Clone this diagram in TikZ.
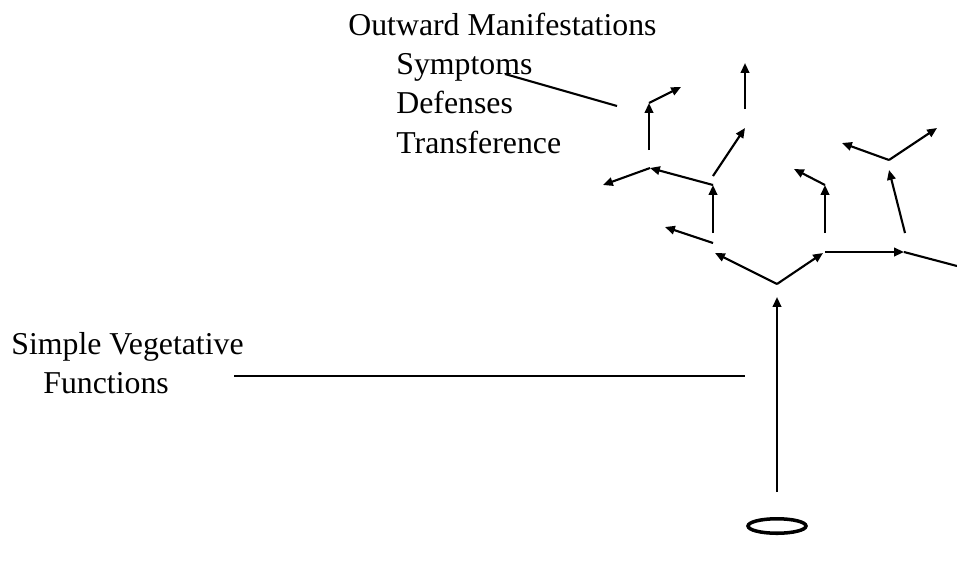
\documentclass[tikz,border=0pt]{standalone}
\usepackage{fontspec}
\setmainfont{Liberation Serif}
\usetikzlibrary{arrows.meta,shapes.geometric}
\begin{document}
\begin{tikzpicture}[x=0.02cm,y=-0.02cm,
  lbl/.style={anchor=base west,inner sep=0pt,font=\fontsize{18.1}{20}\selectfont},
  branch/.style={line width=1.2pt,-{Triangle[length=5.6pt,width=4.8pt]}},
  plain/.style={line width=1.2pt},
  seed/.style={draw,ellipse,line width=2pt,minimum width=1.16cm,minimum height=0.29cm,inner sep=0pt}]
\useasboundingbox (0,0) rectangle (957,562);
% labels
\node[lbl] (om) at (348,35) {Outward Manifestations};
\node[lbl] (sy) at (396,74) {Symptoms};
\node[lbl] (de) at (396,113) {Defenses};
\node[lbl] (tr) at (396,153) {Transference};
\node[lbl] (sv) at (11,354) {Simple Vegetative};
\node[lbl] (fu) at (43,393) {Functions};
% seed
\node[seed] (sd) at (777,526) {};
% coordinates
\coordinate (t0) at (777,492);
\coordinate (t1) at (777,297);
\coordinate (v0) at (777,284);
\coordinate (a) at (715,253);
\coordinate (b) at (823,253);
\coordinate (b2) at (825,252);
\coordinate (c) at (904,252);
\coordinate (ce) at (957,266);
\coordinate (l1s) at (713,243);
\coordinate (l1e) at (665,227);
\coordinate (va) at (713,233);
\coordinate (d) at (713,185);
\coordinate (e) at (650,168);
\coordinate (e2) at (603,185);
\coordinate (ds) at (713,176);
\coordinate (de2) at (745,128);
\coordinate (ts) at (745,109);
\coordinate (te) at (745,63);
\coordinate (us) at (649,150);
\coordinate (ue) at (649,103);
\coordinate (ue2) at (681,87);
\coordinate (ms) at (825,233);
\coordinate (me) at (825,185);
\coordinate (me2) at (794,169);
\coordinate (rs) at (905,233);
\coordinate (re) at (889,170);
\coordinate (rv) at (889,160);
\coordinate (rl) at (842,143);
\coordinate (rr) at (937,128);
\coordinate (sys) at (505,74);
\coordinate (sye) at (617,106);
\coordinate (hs) at (234,376);
\coordinate (he) at (745,376);
% connectors
\draw[branch] (t0) -- (t1);
\draw[branch] (v0) -- (a);
\draw[branch] (v0) -- (b);
\draw[branch] (b2) -- (c);
\draw[plain] (c) -- (ce);
\draw[branch] (l1s) -- (l1e);
\draw[branch] (va) -- (d);
\draw[branch] (d) -- (e);
\draw[branch] (e) -- (e2);
\draw[branch] (ds) -- (de2);
\draw[branch] (ts) -- (te);
\draw[branch] (us) -- (ue);
\draw[branch] (ue) -- (ue2);
\draw[branch] (ms) -- (me);
\draw[branch] (me) -- (me2);
\draw[branch] (rs) -- (re);
\draw[branch] (rv) -- (rl);
\draw[branch] (rv) -- (rr);
\draw[plain] (sys) -- (sye);
\draw[plain] (hs) -- (he);
\end{tikzpicture}
\end{document}
